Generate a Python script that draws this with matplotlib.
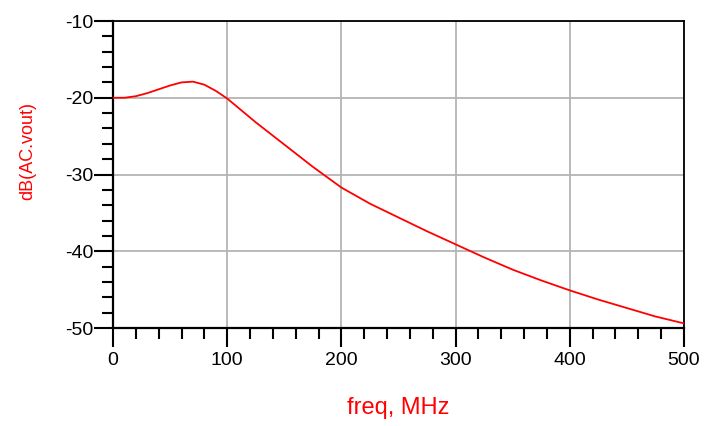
import numpy as np
import matplotlib.pyplot as plt
from matplotlib.ticker import MultipleLocator

plt.rcParams['font.family'] = ['Liberation Sans', 'DejaVu Sans']
plt.rcParams['axes.unicode_minus'] = False

# values
freq = [0, 10, 20, 30, 40, 50, 60, 70, 80, 90, 100, 125, 150, 175, 200,
        225, 250, 275, 300, 325, 350, 375, 400, 425, 450, 475, 500]
gain_db = [-20.0, -20.0, -19.8, -19.4, -18.9, -18.4, -18.0, -17.9, -18.3, -19.1,
           -20.1, -23.2, -26.1, -29.0, -31.7, -33.8, -35.6, -37.4, -39.1, -40.8,
           -42.4, -43.8, -45.1, -46.3, -47.4, -48.5, -49.4]
x_ticks = [0, 100, 200, 300, 400, 500]
y_ticks = [-50, -40, -30, -20, -10]

fig = plt.figure(figsize=(7.08, 4.26), dpi=100)
ax = fig.add_axes([113 / 708, 1 - 328 / 426, 571 / 708, 307 / 426])

ax.plot(freq, gain_db, color='#ff0000', lw=1.3, zorder=3)

ax.set_xlim(0, 500)
ax.set_ylim(-50, -10)
ax.set_xticks(x_ticks)
ax.set_yticks(y_ticks)
ax.xaxis.set_minor_locator(MultipleLocator(20))
ax.yaxis.set_minor_locator(MultipleLocator(2))
ax.grid(True, which='major', color='#b4b4b4', lw=1.3)

ax.tick_params(which='major', direction='out', length=14, width=1.5,
               labelsize=14, colors='black')
ax.tick_params(axis='x', which='major', pad=3)
ax.tick_params(axis='y', which='major', pad=0)
ax.tick_params(which='minor', direction='out', length=8, width=1.5)

for side in ['left', 'bottom']:
    ax.spines[side].set_linewidth(1.6)
for side in ['top', 'right']:
    ax.spines[side].set_linewidth(1.3)

fig.text(398 / 708, 1 - 408 / 426, 'freq, MHz', color='#ff0000', fontsize=17,
         ha='center', va='center')
fig.text(28 / 708, 1 - 151 / 426, 'dB(AC.vout)', color='#ff0000', fontsize=13,
         rotation=90, ha='center', va='center')

fig.savefig('out.png', dpi=100)
